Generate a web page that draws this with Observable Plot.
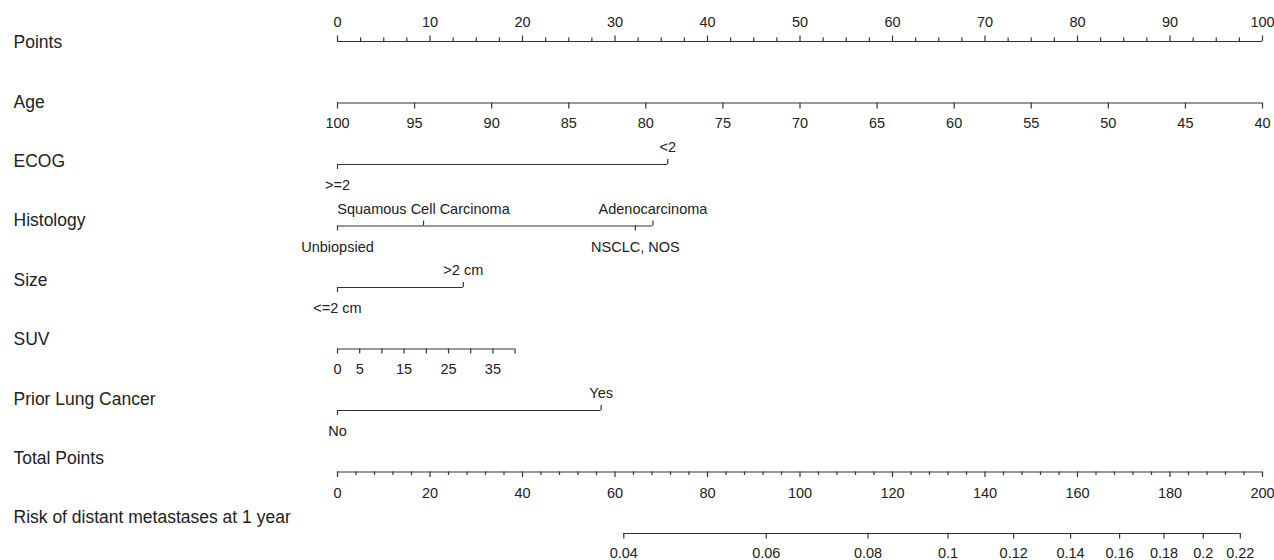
<!DOCTYPE html>
<html><head><meta charset="utf-8">
<script src="https://cdn.jsdelivr.net/npm/d3@7"></script>
<script src="https://cdn.jsdelivr.net/npm/@observablehq/plot@0.6"></script>
<style>body{margin:0;background:#fff}</style>
</head><body><div id="chart"></div>
<script>
// ---- data ----
const rowNames = ["Points","Age","ECOG","Histology","Size","SUV","Prior Lung Cancer","Total Points","Risk of distant metastases at 1 year"];

const pointsTicks = [0,2.5,5,7.5,10,12.5,15,17.5,20,22.5,25,27.5,30,32.5,35,37.5,40,42.5,45,47.5,50,52.5,55,57.5,60,62.5,65,67.5,70,72.5,75,77.5,80,82.5,85,87.5,90,92.5,95,97.5,100];
const pointsLabels = [0,10,20,30,40,50,60,70,80,90,100];

const ageTicks = [100,95,90,85,80,75,70,65,60,55,50,45,40];
const ageAnchor = [100,40];
const ageAnchorPoints = [0,100];

const ecogLevels = [">=2","<2"];
const ecogPoints = [0,35.7];
const ecogSide = ["below","above"];

const histLevels = ["Unbiopsied","Squamous Cell Carcinoma","NSCLC, NOS","Adenocarcinoma"];
const histPoints = [0,9.3,32.2,34.1];
const histSide = ["below","above","below","above"];

const sizeLevels = ["<=2 cm",">2 cm"];
const sizePoints = [0,13.6];
const sizeSide = ["below","above"];

const suvTicks = [0,5,10,15,20,25,30,35,40];
const suvLabels = [0,5,15,25,35];
const suvAnchor = [0,40];
const suvAnchorPoints = [0,19.2];

const priorLevels = ["No","Yes"];
const priorPoints = [0,28.5];
const priorSide = ["below","above"];

const totalTicks = [0,4,8,12,16,20,24,28,32,36,40,44,48,52,56,60,64,68,72,76,80,84,88,92,96,100,104,108,112,116,120,124,128,132,136,140,144,148,152,156,160,164,168,172,176,180,184,188,192,196,200];
const totalLabels = [0,20,40,60,80,100,120,140,160,180,200];
const totalAnchor = [0,200];
const totalAnchorPoints = [0,100];

const riskTicks = [0.04,0.06,0.08,0.1,0.12,0.14,0.16,0.18,0.2,0.22];
const riskTotalPoints = [61.9,92.7,114.7,132.0,146.2,158.5,169.1,178.7,187.2,195.2];

// ---- build marks data ----
const rowPx = 61.5;               // pixels between rows
const u = v => v / rowPx;         // pixel offset -> row units
const segs = [], ticks = [], labs = [];
const seg = (r, xs) => segs.push({r, x1: d3.min(xs), x2: d3.max(xs)});
const tick = (r, x, len) => ticks.push({x, y1: r, y2: r + u(len)});
const lab = (r, x, text, off) => labs.push({x, y: r + u(off), text: String(text)});

// Points (row 0)
seg(0, pointsTicks);
pointsTicks.forEach(v => tick(0, v, pointsLabels.includes(v) ? -5.5 : -3.5));
pointsLabels.forEach(v => lab(0, v, v, -19));

// Age (row 1)
const ageS = d3.scaleLinear().domain(ageAnchor).range(ageAnchorPoints);
seg(1, ageTicks.map(ageS));
ageTicks.forEach(v => { tick(1, ageS(v), 6); lab(1, ageS(v), v, 20); });

// categorical rows
function cat(r, levels, pts, side) {
  seg(r, pts);
  levels.forEach((l, i) => {
    const up = side[i] === "above";
    tick(r, pts[i], up ? -5 : 5);
    lab(r, pts[i], l, up ? -17 : 21);
  });
}
cat(2, ecogLevels, ecogPoints, ecogSide);
cat(3, histLevels, histPoints, histSide);
cat(4, sizeLevels, sizePoints, sizeSide);

// SUV (row 5)
const suvS = d3.scaleLinear().domain(suvAnchor).range(suvAnchorPoints);
seg(5, suvTicks.map(suvS));
suvTicks.forEach(v => tick(5, suvS(v), 5));
suvLabels.forEach(v => lab(5, suvS(v), v, 20));

cat(6, priorLevels, priorPoints, priorSide);

// Total points (row 7)
const totS = d3.scaleLinear().domain(totalAnchor).range(totalAnchorPoints);
seg(7, totalTicks.map(totS));
totalTicks.forEach(v => tick(7, totS(v), totalLabels.includes(v) ? 5.5 : 3.5));
totalLabels.forEach(v => lab(7, totS(v), v, 21));

// Risk (row 8)
seg(8, riskTotalPoints.map(totS));
riskTicks.forEach((v, i) => { tick(8, totS(riskTotalPoints[i]), 5.5); lab(8, totS(riskTotalPoints[i]), v, 20); });

// row label positions (slightly tighter spacing than the axis rows)
const rowLabelY = i => u(1 + 59.4 * i);

const chart = Plot.plot({
  width: 1274, height: 560,
  marginLeft: 337, marginRight: 12, marginTop: 41, marginBottom: 27,
  x: {domain: [0, 100], axis: null},
  y: {domain: [0, 8], range: [41, 533], axis: null},
  style: {fontFamily: "'Liberation Sans', Arial, sans-serif", background: "white", overflow: "visible"},
  marks: [
    Plot.ruleY(segs, {y: "r", x1: "x1", x2: "x2", stroke: "#333", strokeWidth: 1.2}),
    Plot.ruleX(ticks, {x: "x", y1: "y1", y2: "y2", stroke: "#333", strokeWidth: 1.2}),
    Plot.text(labs, {x: "x", y: "y", text: "text", fontSize: 14.5, fill: "#222", lineAnchor: "middle"}),
    Plot.text(rowNames, {y: (d, i) => rowLabelY(i), text: d => d, frameAnchor: "left", dx: -324,
      textAnchor: "start", lineAnchor: "middle", fontSize: 17.5, fill: "#222"})
  ]
});
document.getElementById("chart").append(chart);
</script>
</body></html>
